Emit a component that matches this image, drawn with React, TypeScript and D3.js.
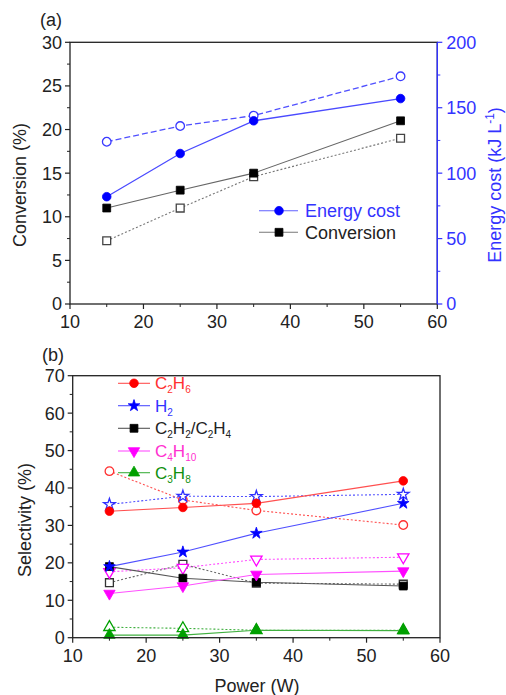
import React, { useEffect, useRef } from "react";
import * as d3 from "d3";

const power = [15, 25, 35, 55];
// Panel (a)
const energyCost = [82, 115, 140, 157];
const energyCostOpen = [124, 136, 144, 174];
const conversion = [11.0, 13.05, 15.0, 21.0];
const conversionOpen = [7.25, 11.0, 14.6, 19.0];
// Panel (b)
const selC2H6 = [33.8, 34.8, 35.9, 41.9];
const selC2H6Open = [44.5, 36.8, 34.0, 30.1];
const selH2 = [19.0, 22.9, 27.9, 35.9];
const selH2Open = [35.6, 37.8, 37.7, 38.3];
const selC2H2 = [19.0, 15.9, 14.8, 13.8];
const selC2H2Open = [14.7, 19.6, 14.6, 14.3];
const selC4H10 = [11.8, 13.8, 16.9, 17.8];
const selC4H10Open = [17.6, 18.7, 20.9, 21.5];
const selC3H8 = [0.7, 0.7, 2.0, 1.9];
const selC3H8Open = [2.8, 2.5, 2.0, 2.0];

const xTicks = [10, 20, 30, 40, 50, 60];
const convTicks = [0, 5, 10, 15, 20, 25, 30];
const energyTicks = [0, 50, 100, 150, 200];
const selTicks = [0, 10, 20, 30, 40, 50, 60, 70];

const FONT = "Liberation Sans, Arial, sans-serif";

export default function App() {
  const ref = useRef<SVGSVGElement>(null);

  useEffect(() => {
    const svg = d3.select(ref.current);
    svg.selectAll("*").remove();

    const symbolFor = (name: string) => {
      if (name === "circle") return d3.symbol(d3.symbolCircle, 58)();
      if (name === "square") return d3.symbol(d3.symbolSquare, 62)();
      if (name === "star") return d3.symbol(d3.symbolStar, 42)();
      return d3.symbol(d3.symbolTriangle, 56)();
    };

    const drawMarker = (
      g: any, x: number, y: number, name: string, color: string, open: boolean
    ) => {
      g.append("path")
        .attr("d", symbolFor(name))
        .attr("transform", `translate(${x},${y})${name === "triDown" ? " rotate(180)" : ""}`)
        .attr("fill", open ? "#fff" : color)
        .attr("stroke", color)
        .attr("stroke-width", open ? 1.3 : 0.8);
    };

    const drawSeries = (
      g: any, xs: any, ys: any, vals: number[], color: string, lineColor: string,
      dash: string | null, marker: string, open: boolean, width = 1.1
    ) => {
      const line = d3.line<number>().x((_, i) => xs(power[i])).y((v) => ys(v));
      g.append("path")
        .attr("d", line(vals))
        .attr("fill", "none")
        .attr("stroke", lineColor)
        .attr("stroke-width", width)
        .attr("stroke-dasharray", dash);
      vals.forEach((v, i) => drawMarker(g, xs(power[i]), ys(v), marker, color, open));
    };

    const drawAxisFrame = (
      g: any, xs: any, ys: any, yTicks: number[], yMinor: number[], left: number, right: number, top: number, bottom: number
    ) => {
      g.append("rect")
        .attr("x", left).attr("y", top).attr("width", right - left).attr("height", bottom - top)
        .attr("fill", "none").attr("stroke", "#222").attr("stroke-width", 1.3);
      xTicks.forEach((t) => {
        g.append("line").attr("x1", xs(t)).attr("x2", xs(t)).attr("y1", bottom).attr("y2", bottom + 5)
          .attr("stroke", "#222").attr("stroke-width", 1.2);
        g.append("text").attr("x", xs(t)).attr("y", bottom + 24).attr("text-anchor", "middle")
          .attr("font-family", FONT).attr("font-size", 18).attr("fill", "#222").text(t);
      });
      [15, 25, 35, 45, 55].forEach((t) => {
        g.append("line").attr("x1", xs(t)).attr("x2", xs(t)).attr("y1", bottom).attr("y2", bottom + 3)
          .attr("stroke", "#222").attr("stroke-width", 1);
      });
      yTicks.forEach((t) => {
        g.append("line").attr("x1", left - 5).attr("x2", left).attr("y1", ys(t)).attr("y2", ys(t))
          .attr("stroke", "#222").attr("stroke-width", 1.2);
        g.append("text").attr("x", left - 8).attr("y", ys(t)).attr("dy", "0.36em").attr("text-anchor", "end")
          .attr("font-family", FONT).attr("font-size", 18).attr("fill", "#222").text(t);
      });
      yMinor.forEach((t) => {
        g.append("line").attr("x1", left - 3).attr("x2", left).attr("y1", ys(t)).attr("y2", ys(t))
          .attr("stroke", "#222").attr("stroke-width", 1);
      });
    };

    // ---------- Panel (a)
    const aL = 70, aR = 437.3, aT = 42.3, aB = 304;
    const xa = d3.scaleLinear().domain([10, 60]).range([aL, aR]);
    const ya = d3.scaleLinear().domain([0, 30]).range([aB, aT]);
    const ye = d3.scaleLinear().domain([0, 200]).range([aB, aT]);
    const ga = svg.append("g");

    drawSeries(ga, xa, ye, energyCostOpen, "#3a3aff", "#5050ff", "6,3", "circle", true, 1.3);
    drawSeries(ga, xa, ya, conversionOpen, "#444", "#777", "2,2", "square", true, 1.1);
    drawSeries(ga, xa, ya, conversion, "#000", "#666", null, "square", false, 1.1);
    drawSeries(ga, xa, ye, energyCost, "#0000ff", "#4a4aff", null, "circle", false, 1.3);

    drawAxisFrame(ga, xa, ya, convTicks, [2.5, 7.5, 12.5, 17.5, 22.5, 27.5], aL, aR, aT, aB);
    const blue = "#3333ff";
    ga.append("line").attr("x1", aR).attr("x2", aR).attr("y1", aT).attr("y2", aB)
      .attr("stroke", blue).attr("stroke-width", 1.4);
    energyTicks.forEach((t) => {
      ga.append("line").attr("x1", aR).attr("x2", aR + 5).attr("y1", ye(t)).attr("y2", ye(t))
        .attr("stroke", blue).attr("stroke-width", 1.2);
      ga.append("text").attr("x", aR + 9).attr("y", ye(t)).attr("dy", "0.36em")
        .attr("font-family", FONT).attr("font-size", 18).attr("fill", blue).text(t);
    });
    [25, 75, 125, 175].forEach((t) => {
      ga.append("line").attr("x1", aR).attr("x2", aR + 3).attr("y1", ye(t)).attr("y2", ye(t))
        .attr("stroke", blue).attr("stroke-width", 1);
    });

    ga.append("text").attr("x", 40).attr("y", 26).attr("font-family", FONT).attr("font-size", 18)
      .attr("fill", "#222").text("(a)");
    ga.append("text").attr("transform", `translate(26,185) rotate(-90)`).attr("text-anchor", "middle")
      .attr("font-family", FONT).attr("font-size", 18).attr("fill", "#222").text("Conversion (%)");
    const eLab = ga.append("text").attr("transform", `translate(501,185) rotate(-90)`).attr("text-anchor", "middle")
      .attr("font-family", FONT).attr("font-size", 18).attr("fill", blue);
    eLab.append("tspan").text("Energy cost (kJ L");
    eLab.append("tspan").attr("dy", -7).attr("font-size", 12).text("-1");
    eLab.append("tspan").attr("dy", 7).text(")");

    const legA = [
      { label: "Energy cost", color: "#0000ff", line: "#6060ff", marker: "circle", text: blue, y: 210.7 },
      { label: "Conversion", color: "#000", line: "#777", marker: "square", text: "#222", y: 232.3 },
    ];
    legA.forEach((d) => {
      ga.append("line").attr("x1", 259).attr("x2", 298).attr("y1", d.y).attr("y2", d.y)
        .attr("stroke", d.line).attr("stroke-width", 1.1);
      drawMarker(ga, 279, d.y, d.marker, d.color, false);
      ga.append("text").attr("x", 305).attr("y", d.y).attr("dy", "0.36em")
        .attr("font-family", FONT).attr("font-size", 18).attr("fill", d.text).text(d.label);
    });

    // ---------- Panel (b)
    const bL = 72.7, bR = 440, bT = 375.7, bB = 637.7;
    const xb = d3.scaleLinear().domain([10, 60]).range([bL, bR]);
    const yb = d3.scaleLinear().domain([0, 70]).range([bB, bT]);
    const gb = svg.append("g");

    const red = "#ff0000", bl = "#0000ff", blk = "#000", mag = "#ff00ff", grn = "#00a000";
    drawSeries(gb, xb, yb, selC3H8Open, grn, "#40b040", "2,2", "triUp", true, 1.1);
    drawSeries(gb, xb, yb, selC3H8, grn, "#40b040", null, "triUp", false, 1.1);
    drawSeries(gb, xb, yb, selC2H2Open, "#333", "#666", "2,2", "square", true, 1.1);
    drawSeries(gb, xb, yb, selC4H10Open, mag, "#ff50ff", "2,2", "triDown", true, 1.1);
    drawSeries(gb, xb, yb, selC2H2, blk, "#555", null, "square", false, 1.1);
    drawSeries(gb, xb, yb, selC4H10, mag, "#ff50ff", null, "triDown", false, 1.1);
    drawSeries(gb, xb, yb, selC2H6Open, "#ff3030", "#ff5050", "2,2", "circle", true, 1.1);
    drawSeries(gb, xb, yb, selH2Open, "#3030ff", "#5050ff", "2,2", "star", true, 1.1);
    drawSeries(gb, xb, yb, selC2H6, red, "#ff5050", null, "circle", false, 1.1);
    drawSeries(gb, xb, yb, selH2, bl, "#5050ff", null, "star", false, 1.1);

    drawAxisFrame(gb, xb, yb, selTicks, [5, 15, 25, 35, 45, 55, 65], bL, bR, bT, bB);

    gb.append("text").attr("x", 42).attr("y", 361).attr("font-family", FONT).attr("font-size", 18)
      .attr("fill", "#222").text("(b)");
    gb.append("text").attr("transform", `translate(31,520) rotate(-90)`).attr("text-anchor", "middle")
      .attr("font-family", FONT).attr("font-size", 18).attr("fill", "#222").text("Selectivity (%)");
    gb.append("text").attr("x", 257).attr("y", 692).attr("text-anchor", "middle")
      .attr("font-family", FONT).attr("font-size", 18).attr("fill", "#222").text("Power (W)");

    const legB = [
      { parts: [["C", ""], ["2", "s"], ["H", ""], ["6", "s"]], color: red, line: "#ff5050", text: "#ff3030", marker: "circle", y: 383.3 },
      { parts: [["H", ""], ["2", "s"]], color: bl, line: "#5050ff", text: "#3333ff", marker: "star", y: 405.7 },
      { parts: [["C", ""], ["2", "s"], ["H", ""], ["2", "s"], ["/C", ""], ["2", "s"], ["H", ""], ["4", "s"]], color: blk, line: "#555", text: "#222", marker: "square", y: 428.3 },
      { parts: [["C", ""], ["4", "s"], ["H", ""], ["10", "s"]], color: mag, line: "#ff50ff", text: "#ff30d0", marker: "triDown", y: 451 },
      { parts: [["C", ""], ["3", "s"], ["H", ""], ["8", "s"]], color: grn, line: "#40b040", text: "#109010", marker: "triUp", y: 472.7 },
    ];
    legB.forEach((d) => {
      gb.append("line").attr("x1", 118).attr("x2", 150).attr("y1", d.y).attr("y2", d.y)
        .attr("stroke", d.line).attr("stroke-width", 1.1);
      drawMarker(gb, 134, d.y, d.marker, d.color, false);
      const t = gb.append("text").attr("x", 155).attr("y", d.y + 6)
        .attr("font-family", FONT).attr("font-size", 17).attr("fill", d.text);
      let sub = false;
      d.parts.forEach(([s, k]) => {
        const sp = t.append("tspan").text(s);
        if (k === "s" && !sub) { sp.attr("dy", 4).attr("font-size", 10); sub = true; }
        else if (k === "s" && sub) { sp.attr("font-size", 10); }
        else if (k === "" && sub) { sp.attr("dy", -4); sub = false; }
      });
    });
  }, []);

  return (
    <svg ref={ref} width={506} height={695}
      style={{ position: "absolute", left: 0, top: 0, background: "#fff" }} />
  );
}
